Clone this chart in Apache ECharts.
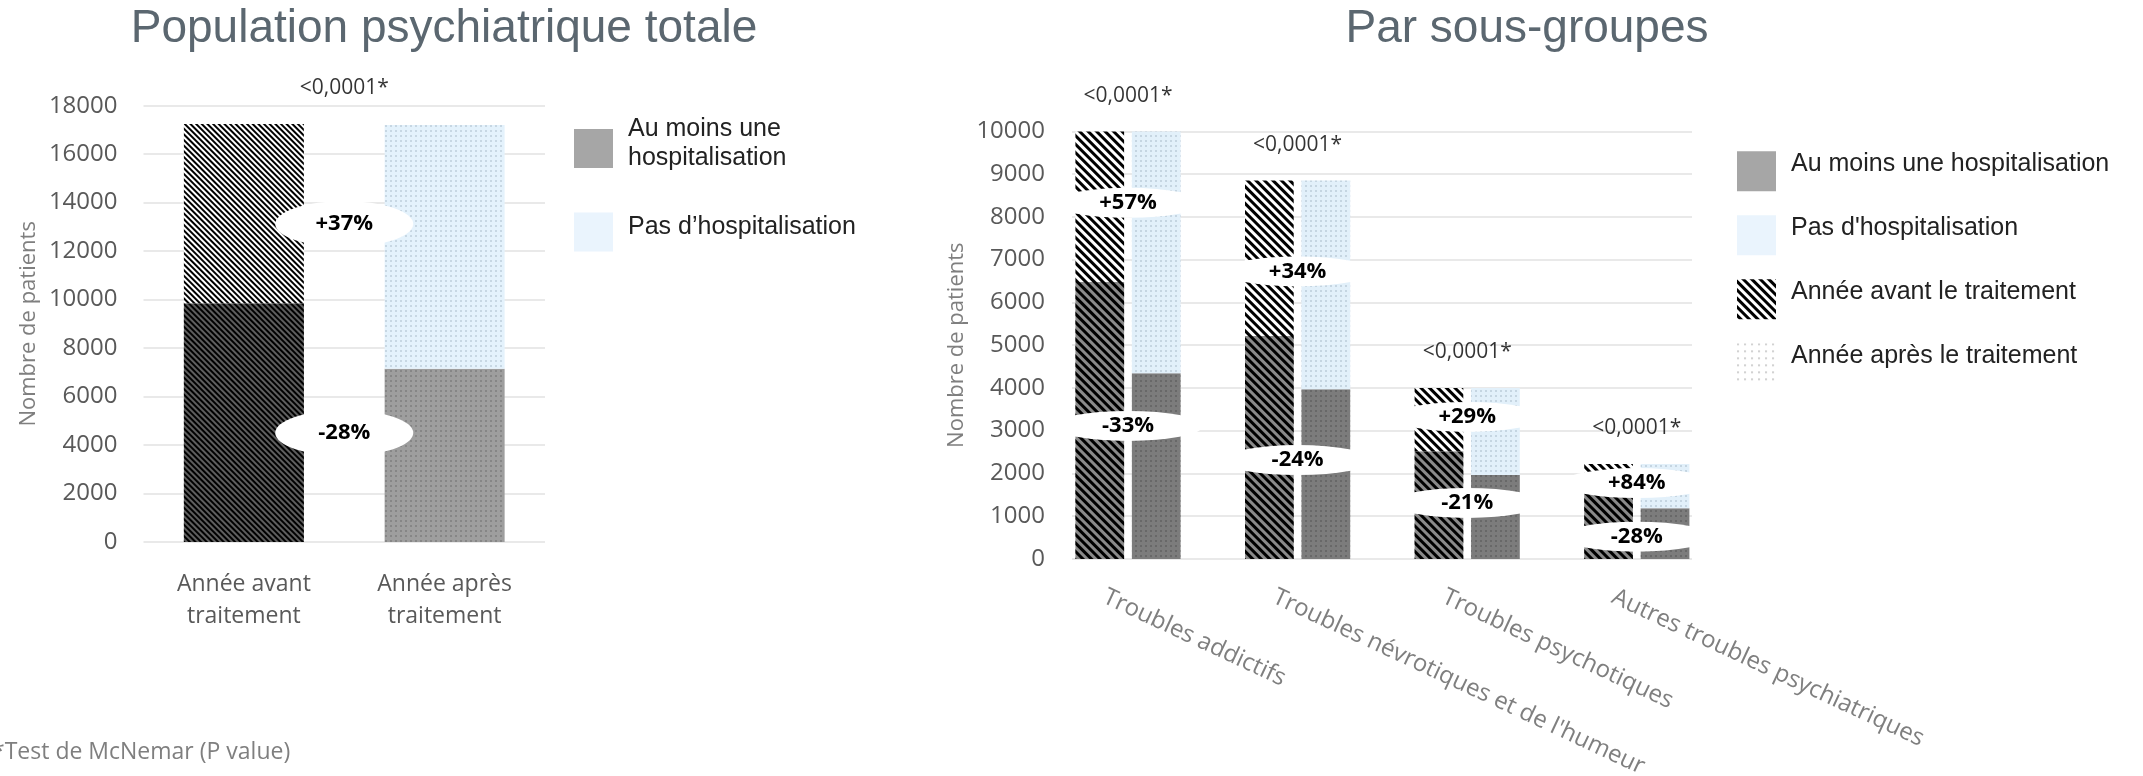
<!DOCTYPE html>
<html><head><meta charset="utf-8">
<script src="https://cdn.jsdelivr.net/npm/echarts@6/dist/echarts.min.js"></script>
<style>html,body{margin:0;padding:0;background:#fff}#c{width:2143px;height:776px}</style>
</head><body><div id="c"></div>
<script>
// ---------- Data : population psychiatrique totale ----------
const totalCategories = ['Année avant\ntraitement', 'Année après\ntraitement'];
const totalHosp = [9850, 7150];          // Au moins une hospitalisation
const totalNoHosp = [7400, 10050];       // Pas d'hospitalisation
const totalChangeLabels = ['+37%', '-28%'];
const totalChangeY = [13120, 4500];
const totalPValue = '<0,0001*';
const totalTicks = [0, 2000, 4000, 6000, 8000, 10000, 12000, 14000, 16000, 18000];

// ---------- Data : par sous-groupes ----------
const subCategories = ['Troubles addictifs', "Troubles névrotiques et de l'humeur", 'Troubles psychotiques', 'Autres troubles psychiatriques'];
const subHospBefore = [6475, 5214, 2520, 1518];
const subNoHospBefore = [3525, 3640, 1480, 702];
const subHospAfter = [4344, 3967, 1963, 1184];
const subNoHospAfter = [5656, 4887, 2037, 1036];
const subChangeNoHosp = ['+57%', '+34%', '+29%', '+84%'];
const subChangeNoHospY = [8330, 6725, 3320, 1775];
const subChangeHosp = ['-33%', '-24%', '-21%', '-28%'];
const subChangeHospY = [3110, 2313, 1310, 520];
const subPValues = ['<0,0001*', '<0,0001*', '<0,0001*', '<0,0001*'];
const subTicks = [0, 1000, 2000, 3000, 4000, 5000, 6000, 7000, 8000, 9000, 10000];

// ---------- Styles ----------
const FONT = 'Open Sans';
const hatch = (color, w, gap) => ({ symbol: 'rect', symbolSize: 1, color: color, dashArrayX: [1, 0], dashArrayY: [w, gap], rotation: Math.PI / 4 });
const dots = (color, size, gap) => ({ symbol: 'circle', symbolSize: 0.8, color: color, dashArrayX: [size, gap], dashArrayY: [size, gap], rotation: 0 });

const tBeforeHosp = { color: '#5e5e5e', decal: hatch('#000', 1.8, 1.8) };
const tBeforeNo = { color: '#ffffff', decal: hatch('#000', 1.8, 1.8) };
const tAfterHosp = { color: '#9e9e9e', decal: dots('#6a6a6a', 1.6, 2.4) };
const tAfterNo = { color: '#e4f2fc', decal: dots('#a3b5c3', 1.6, 2.4) };

const sBeforeHosp = { color: '#8a8a8a', decal: hatch('#000', 2.4, 2.4) };
const sBeforeNo = { color: '#ffffff', decal: hatch('#000', 2.4, 2.4) };
const sAfterHosp = { color: '#7c7c7c', decal: dots('#505050', 1.6, 2.4) };
const sAfterNo = { color: '#e2f0fa', decal: dots('#9fb2c2', 1.6, 2.4) };

const plainNum = v => String(v);
const tickLabel = { color: '#595959', fontSize: 24, fontFamily: FONT, formatter: plainNum };
const axisName = { color: '#7f7f7f', fontSize: 22, fontFamily: FONT };
const splitLine = { show: true, lineStyle: { color: '#e2e2e2', width: 1.5 } };
const changeLabel = { show: true, position: 'inside', color: '#000', fontWeight: 'bold', fontSize: 22, fontFamily: FONT };
const pLabel = { show: true, position: 'top', distance: 25, color: '#000', fontSize: 21, fontFamily: FONT };
const ellipseStyle = { color: '#ffffff', opacity: 1 };

const totalMax = totalHosp.map((v, i) => v + totalNoHosp[i]).reduce((a, b) => Math.max(a, b));
const subMax = subCategories.map((c, i) => Math.max(subHospBefore[i] + subNoHospBefore[i], subHospAfter[i] + subNoHospAfter[i]));
const mid = totalCategories.length / 2;

const chart = echarts.init(document.getElementById('c'), null, { width: 2143, height: 776 });
chart.setOption({
  animation: false,
  backgroundColor: '#ffffff',
  title: [
    { text: 'Population psychiatrique totale', left: 444, top: 6, padding: 0, textAlign: 'center',
      textStyle: { fontFamily: 'Liberation Sans', fontSize: 46, fontWeight: 'normal', color: '#5b6770' } },
    { text: 'Par sous-groupes', left: 1527, top: 6, padding: 0, textAlign: 'center',
      textStyle: { fontFamily: 'Liberation Sans', fontSize: 46, fontWeight: 'normal', color: '#5b6770' } },
    { text: '*Test de McNemar (P value)', left: -8, top: 741, padding: 0,
      textStyle: { fontFamily: FONT, fontSize: 23, fontWeight: 'normal', color: '#7f7f7f' } }
  ],
  legend: [
    { orient: 'vertical', left: 574, top: 114.5, padding: 0, itemWidth: 39, itemHeight: 39, itemGap: 30, selectedMode: false, icon: 'rect',
      formatter: n => n + '\n{s| }',
      textStyle: { fontFamily: 'Liberation Sans', fontSize: 25, lineHeight: 29, color: '#222', padding: [0, 0, 0, 10],
        rich: { s: { fontSize: 2, lineHeight: 10 } } },
      data: ['Au moins une\nhospitalisation', 'Pas d\u2019hospitalisation'] },
    { orient: 'vertical', left: 1737, top: 149.8, padding: 0, itemWidth: 39, itemHeight: 40, itemGap: 21, selectedMode: false, icon: 'rect',
      formatter: n => n + '\n{s| }',
      textStyle: { fontFamily: 'Liberation Sans', fontSize: 25, lineHeight: 28, color: '#222', padding: [0, 0, 0, 10],
        rich: { s: { fontSize: 2, lineHeight: 15 } } },
      data: ['Au moins une hospitalisation', "Pas d'hospitalisation", 'Année avant le traitement', 'Année après le traitement'] }
  ],
  grid: [
    { left: 143.5, top: 105.7, width: 401.5, height: 436.3, outerBoundsMode: 'none' },
    { left: 1072, top: 131.4, width: 620, height: 427.5, outerBoundsMode: 'none' },
    { left: 1043.2, top: 131.4, width: 678.4, height: 427.5, outerBoundsMode: 'none' }
  ],
  xAxis: [
    { type: 'category', gridIndex: 0, data: totalCategories, axisLine: { show: false }, axisTick: { show: false },
      axisLabel: { color: '#595959', fontSize: 23, fontFamily: FONT, margin: 26, lineHeight: 32 } },
    { type: 'value', gridIndex: 0, min: 0, max: totalCategories.length, show: false },
    { type: 'category', gridIndex: 1, data: subCategories, show: false },
    { type: 'category', gridIndex: 2, data: subCategories, axisLine: { show: false }, axisTick: { show: false },
      axisLabel: { color: '#7f7f7f', fontSize: 24, fontFamily: FONT, rotate: -25, margin: 48, interval: 0, padding: [0, 0, 0, -26] } }
  ],
  yAxis: [
    { type: 'value', gridIndex: 0, min: totalTicks[0], max: totalTicks[totalTicks.length - 1], interval: totalTicks[1] - totalTicks[0],
      axisLine: { show: false }, axisTick: { show: false }, splitLine: splitLine,
      axisLabel: Object.assign({}, tickLabel, { margin: 26 }),
      name: 'Nombre de patients', nameLocation: 'middle', nameGap: 104, nameTextStyle: axisName },
    { type: 'value', gridIndex: 1, min: subTicks[0], max: subTicks[subTicks.length - 1], interval: subTicks[1] - subTicks[0],
      axisLine: { show: false }, axisTick: { show: false }, splitLine: splitLine,
      axisLabel: Object.assign({}, tickLabel, { margin: 27 }),
      name: 'Nombre de patients', nameLocation: 'middle', nameGap: 104, nameTextStyle: axisName },
    { type: 'value', gridIndex: 2, min: subTicks[0], max: subTicks[subTicks.length - 1], show: false }
  ],
  series: [
    // ----- total -----
    { type: 'bar', name: 'tHosp', xAxisIndex: 0, yAxisIndex: 0, stack: 'total', barWidth: 120, silent: true,
      data: totalHosp.map((v, i) => ({ value: v, itemStyle: i === 0 ? tBeforeHosp : tAfterHosp })) },
    { type: 'bar', name: 'tNo', xAxisIndex: 0, yAxisIndex: 0, stack: 'total', barWidth: 120, silent: true,
      data: totalNoHosp.map((v, i) => ({ value: v, itemStyle: i === 0 ? tBeforeNo : tAfterNo })) },
    { type: 'scatter', xAxisIndex: 1, yAxisIndex: 0, symbol: 'circle', symbolSize: [138, 46], z: 5, silent: true,
      itemStyle: ellipseStyle, label: changeLabel,
      data: totalChangeY.map((y, i) => ({ value: [mid, y], label: { formatter: totalChangeLabels[i] } })) },
    { type: 'scatter', xAxisIndex: 1, yAxisIndex: 0, symbolSize: 0, z: 5, silent: true,
      label: Object.assign({}, pLabel, { formatter: totalPValue }), data: [[mid, totalMax]] },
    // ----- sous-groupes -----
    { type: 'bar', name: 'sHb', xAxisIndex: 3, yAxisIndex: 2, stack: 'avant', barWidth: 48.7, barGap: '16%', silent: true,
      itemStyle: sBeforeHosp, data: subHospBefore },
    { type: 'bar', name: 'sNb', xAxisIndex: 3, yAxisIndex: 2, stack: 'avant', barWidth: 48.7, barGap: '16%', silent: true,
      itemStyle: sBeforeNo, data: subNoHospBefore },
    { type: 'bar', name: 'sHa', xAxisIndex: 3, yAxisIndex: 2, stack: 'apres', barWidth: 48.7, barGap: '16%', silent: true,
      itemStyle: sAfterHosp, data: subHospAfter },
    { type: 'bar', name: 'sNa', xAxisIndex: 3, yAxisIndex: 2, stack: 'apres', barWidth: 48.7, barGap: '16%', silent: true,
      itemStyle: sAfterNo, data: subNoHospAfter },
    { type: 'scatter', xAxisIndex: 3, yAxisIndex: 2, symbol: 'circle', symbolSize: [150, 30], z: 5, silent: true,
      itemStyle: ellipseStyle, label: changeLabel,
      data: subChangeNoHospY.map((y, i) => ({ value: [i, y], label: { formatter: subChangeNoHosp[i] } }))
        .concat(subChangeHospY.map((y, i) => ({ value: [i, y], label: { formatter: subChangeHosp[i] } }))) },
    { type: 'scatter', xAxisIndex: 3, yAxisIndex: 2, symbolSize: 0, z: 5, silent: true,
      label: pLabel,
      data: subMax.map((m, i) => ({ value: [i, m], label: { formatter: subPValues[i] } })) },
    // ----- legend entries -----
    { type: 'bar', name: 'Au moins une\nhospitalisation', xAxisIndex: 1, yAxisIndex: 0, data: [], itemStyle: { color: '#a6a6a6' } },
    { type: 'bar', name: 'Pas d\u2019hospitalisation', xAxisIndex: 1, yAxisIndex: 0, data: [], itemStyle: { color: '#eaf4fd' } },
    { type: 'bar', name: 'Au moins une hospitalisation', xAxisIndex: 2, yAxisIndex: 1, data: [], itemStyle: { color: '#a6a6a6' } },
    { type: 'bar', name: "Pas d'hospitalisation", xAxisIndex: 2, yAxisIndex: 1, data: [], itemStyle: { color: '#eaf4fd' } },
    { type: 'bar', name: 'Année avant le traitement', xAxisIndex: 2, yAxisIndex: 1, data: [],
      itemStyle: { color: '#ffffff', decal: hatch('#000', 2.6, 2.6) } },
    { type: 'bar', name: 'Année après le traitement', xAxisIndex: 2, yAxisIndex: 1, data: [],
      itemStyle: { color: '#ffffff', decal: dots('#9a9a9a', 1.6, 4.4) } }
  ]
});
</script></body></html>
